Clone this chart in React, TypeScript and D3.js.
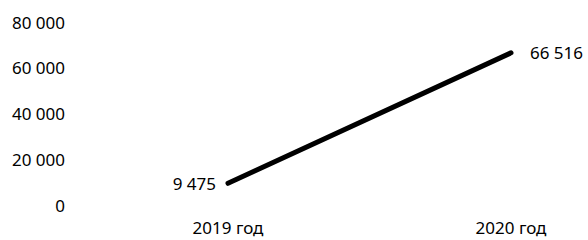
import * as d3 from 'd3';

const categories = ['2019 год', '2020 год'];
const values = [9475, 66516];
const yTicks = [0, 20000, 40000, 60000, 80000];

const width = 588;
const height = 240;

const fmt = (v: number) => d3.format(',')(v).replace(/,/g, ' ');

const App = () => {
  const x = d3.scalePoint<string>().domain(categories).range([228, 511]);
  const y = d3.scaleLinear().domain([0, 80000]).range([205, 22]);

  const line = d3.line<number>()
    .x((_, i) => x(categories[i]) as number)
    .y(d => y(d));

  const font = "'Noto Sans', sans-serif";

  return (
    <svg width={width} height={height} style={{ position: 'absolute', left: 0, top: 0 }}
      fontFamily={font} fontSize={17} fill="#000">
      <rect width={width} height={height} fill="#fff" />
      {yTicks.map(t => (
        <text key={t} x={65} y={y(t)} textAnchor="end" dominantBaseline="central">
          {fmt(t)}
        </text>
      ))}
      {categories.map(c => (
        <text key={c} x={x(c)} y={234} textAnchor="middle">
          {c}
        </text>
      ))}
      <path d={line(values) || ''} fill="none" stroke="#000" strokeWidth={5}
        strokeLinecap="round" />
      {values.map((v, i) => (
        <text key={i}
          x={(x(categories[i]) as number) + (i === 0 ? -12 : 19)}
          y={y(v)}
          textAnchor={i === 0 ? 'end' : 'start'}
          dominantBaseline="central">
          {fmt(v)}
        </text>
      ))}
    </svg>
  );
};

export default App;
